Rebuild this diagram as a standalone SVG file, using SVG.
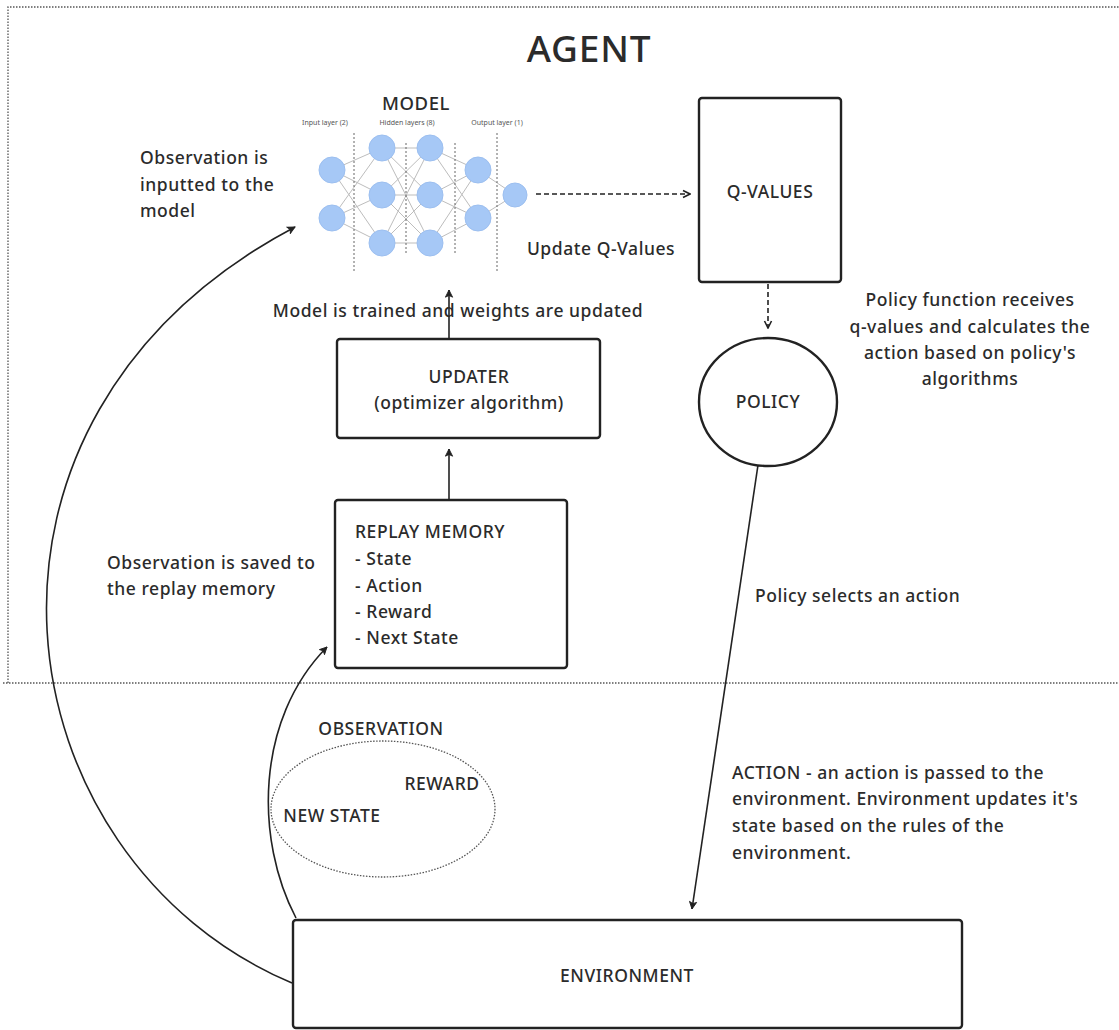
<svg xmlns="http://www.w3.org/2000/svg" width="1119" height="1030" viewBox="0 0 1119 1030">
  <style>
    .t { font-family: "Noto Sans", "Open Sans", sans-serif; fill: #2b2b2b; font-weight: 500; }
    .lbl { font-size: 17.5px; letter-spacing: 0.55px; }
    .box { fill: #ffffff; stroke: #222; stroke-width: 2.4; }
    .conn { fill: none; stroke: #222; stroke-width: 1.6; }
    .dash { fill: none; stroke: #222; stroke-width: 1.6; stroke-dasharray: 5 3; }
    .dot { fill: none; stroke: #555; stroke-width: 1.3; stroke-dasharray: 1.5 1.5; }
    .syn { stroke: #bdbdbd; stroke-width: 1; }
    .neu { fill: #a6c8f6; stroke: #9cbff0; stroke-width: 1; }
    .sep { stroke: #666; stroke-width: 1; stroke-dasharray: 2 2; }
    .tiny { font-family: "Noto Sans", sans-serif; font-size: 7px; fill: #555; }
  </style>
  <defs>
    <marker id="arr" viewBox="0 0 10 10" refX="9" refY="5" markerWidth="9" markerHeight="9" markerUnits="userSpaceOnUse" orient="auto">
      <path d="M1,1 L9,5 L1,9 L3,5 Z" fill="#222" stroke="#222" stroke-width="1"/>
    </marker>
    <marker id="chev" viewBox="0 0 10 10" refX="9" refY="5" markerWidth="10" markerHeight="10" markerUnits="userSpaceOnUse" orient="auto">
      <path d="M2,1.5 L9,5 L2,8.5" fill="none" stroke="#222" stroke-width="1.6"/>
    </marker>
  </defs>

  <rect width="1119" height="1030" fill="#ffffff"/>

  <!-- agent boundary -->
  <g id="agent">
    <path class="dot" d="M8,683 L8,7 L1119,7"/>
    <line class="dot" x1="3" y1="683" x2="1119" y2="683"/>
    <text class="t" x="589" y="62" font-size="37" letter-spacing="0.8" text-anchor="middle">AGENT</text>
  </g>

  <!-- neural network model -->
  <g id="model">
    <text class="t" x="416" y="110" font-size="18.5" letter-spacing="0.6" text-anchor="middle">MODEL</text>
    <text class="tiny" x="325" y="125" text-anchor="middle">Input layer (2)</text>
    <text class="tiny" x="407" y="125" text-anchor="middle">Hidden layers (8)</text>
    <text class="tiny" x="497" y="125" text-anchor="middle">Output layer (1)</text>
    <g>
      <!-- input -> hidden 1 -->
      <line class="syn" x1="332" y1="170" x2="382" y2="148"/>
      <line class="syn" x1="332" y1="170" x2="382" y2="195"/>
      <line class="syn" x1="332" y1="170" x2="382" y2="243"/>
      <line class="syn" x1="332" y1="218" x2="382" y2="148"/>
      <line class="syn" x1="332" y1="218" x2="382" y2="195"/>
      <line class="syn" x1="332" y1="218" x2="382" y2="243"/>
      <!-- hidden 1 -> hidden 2 -->
      <line class="syn" x1="382" y1="148" x2="430" y2="148"/>
      <line class="syn" x1="382" y1="148" x2="430" y2="195"/>
      <line class="syn" x1="382" y1="148" x2="430" y2="243"/>
      <line class="syn" x1="382" y1="195" x2="430" y2="148"/>
      <line class="syn" x1="382" y1="195" x2="430" y2="195"/>
      <line class="syn" x1="382" y1="195" x2="430" y2="243"/>
      <line class="syn" x1="382" y1="243" x2="430" y2="148"/>
      <line class="syn" x1="382" y1="243" x2="430" y2="195"/>
      <line class="syn" x1="382" y1="243" x2="430" y2="243"/>
      <!-- hidden 2 -> hidden 3 -->
      <line class="syn" x1="430" y1="148" x2="478" y2="170"/>
      <line class="syn" x1="430" y1="148" x2="478" y2="218"/>
      <line class="syn" x1="430" y1="195" x2="478" y2="170"/>
      <line class="syn" x1="430" y1="195" x2="478" y2="218"/>
      <line class="syn" x1="430" y1="243" x2="478" y2="170"/>
      <line class="syn" x1="430" y1="243" x2="478" y2="218"/>
      <!-- hidden 3 -> output -->
      <line class="syn" x1="478" y1="170" x2="515" y2="195"/>
      <line class="syn" x1="478" y1="218" x2="515" y2="195"/>
    </g>
    <line class="sep" x1="354" y1="133" x2="354" y2="273"/>
    <line class="sep" x1="406" y1="143" x2="406" y2="255" stroke-dasharray="1.5 1.5"/>
    <line class="sep" x1="455" y1="143" x2="455" y2="255" stroke-dasharray="1.5 1.5"/>
    <line class="sep" x1="497" y1="133" x2="497" y2="273"/>
    <circle class="neu" cx="332" cy="170" r="13"/>
    <circle class="neu" cx="332" cy="218" r="13"/>
    <circle class="neu" cx="382" cy="148" r="13"/>
    <circle class="neu" cx="382" cy="195" r="13"/>
    <circle class="neu" cx="382" cy="243" r="13"/>
    <circle class="neu" cx="430" cy="148" r="13"/>
    <circle class="neu" cx="430" cy="195" r="13"/>
    <circle class="neu" cx="430" cy="243" r="13"/>
    <circle class="neu" cx="478" cy="170" r="13"/>
    <circle class="neu" cx="478" cy="218" r="13"/>
    <circle class="neu" cx="515" cy="195" r="12"/>
  </g>

  <g id="q-values">
    <rect class="box" x="699" y="98" width="142" height="184" rx="3"/>
    <text class="t lbl" x="770" y="198" text-anchor="middle">Q-VALUES</text>
  </g>

  <g id="policy">
    <ellipse class="box" cx="768" cy="402" rx="69" ry="64"/>
    <text class="t lbl" x="768" y="408" text-anchor="middle">POLICY</text>
  </g>

  <g id="updater">
    <rect class="box" x="337" y="339" width="263" height="99" rx="3"/>
    <text class="t lbl" x="469" y="383" text-anchor="middle">UPDATER</text>
    <text class="t lbl" x="469" y="409" text-anchor="middle">(optimizer algorithm)</text>
  </g>

  <g id="replay-memory">
    <rect class="box" x="335" y="500" width="232" height="168" rx="3"/>
    <text class="t lbl" x="355" y="538">REPLAY MEMORY</text>
    <text class="t lbl" x="355" y="565">- State</text>
    <text class="t lbl" x="355" y="592">- Action</text>
    <text class="t lbl" x="355" y="618">- Reward</text>
    <text class="t lbl" x="355" y="644">- Next State</text>
  </g>

  <g id="observation">
    <ellipse class="dot" cx="383" cy="809" rx="112" ry="68"/>
    <text class="t lbl" x="381" y="735" text-anchor="middle">OBSERVATION</text>
    <text class="t lbl" x="442" y="790" text-anchor="middle">REWARD</text>
    <text class="t lbl" x="332" y="822" text-anchor="middle">NEW STATE</text>
  </g>

  <g id="environment">
    <rect class="box" x="293" y="920" width="669" height="108" rx="3"/>
    <text class="t lbl" x="627" y="982" text-anchor="middle">ENVIRONMENT</text>
  </g>

  <!-- connectors -->
  <g id="connectors">
    <line class="dash" x1="536" y1="194" x2="690" y2="194" marker-end="url(#chev)"/>
    <line class="dash" x1="768" y1="284" x2="768" y2="328" marker-end="url(#chev)"/>
    <line class="conn" x1="449" y1="339" x2="449" y2="290" marker-end="url(#arr)"/>
    <line class="conn" x1="449" y1="500" x2="449" y2="449" marker-end="url(#arr)"/>
    <line class="conn" x1="758" y1="465" x2="692" y2="909" marker-end="url(#arr)"/>
    <path class="conn" d="M292,983 C0,860 -70,420 295,227" marker-end="url(#arr)"/>
    <path class="conn" d="M296,918 C255,840 255,720 327,647" marker-end="url(#arr)"/>
  </g>

  <!-- annotations -->
  <g id="annotations">
    <text class="t lbl" x="140" y="164">Observation is</text>
    <text class="t lbl" x="140" y="191">inputted to the</text>
    <text class="t lbl" x="140" y="217">model</text>
    <text class="t lbl" x="601" y="255" text-anchor="middle">Update Q-Values</text>
    <text class="t lbl" x="458" y="317" text-anchor="middle">Model is trained and weights are updated</text>
    <text class="t lbl" x="970" y="306" text-anchor="middle">Policy function receives</text>
    <text class="t lbl" x="970" y="333" text-anchor="middle">q-values and calculates the</text>
    <text class="t lbl" x="970" y="359" text-anchor="middle">action based on policy's</text>
    <text class="t lbl" x="970" y="385" text-anchor="middle">algorithms</text>
    <text class="t lbl" x="107" y="569">Observation is saved to</text>
    <text class="t lbl" x="107" y="595">the replay memory</text>
    <text class="t lbl" x="755" y="602">Policy selects an action</text>
    <text class="t lbl" x="732" y="779">ACTION - an action is passed to the</text>
    <text class="t lbl" x="732" y="805">environment. Environment updates it's</text>
    <text class="t lbl" x="732" y="832">state based on the rules of the</text>
    <text class="t lbl" x="732" y="859">environment.</text>
  </g>
</svg>
